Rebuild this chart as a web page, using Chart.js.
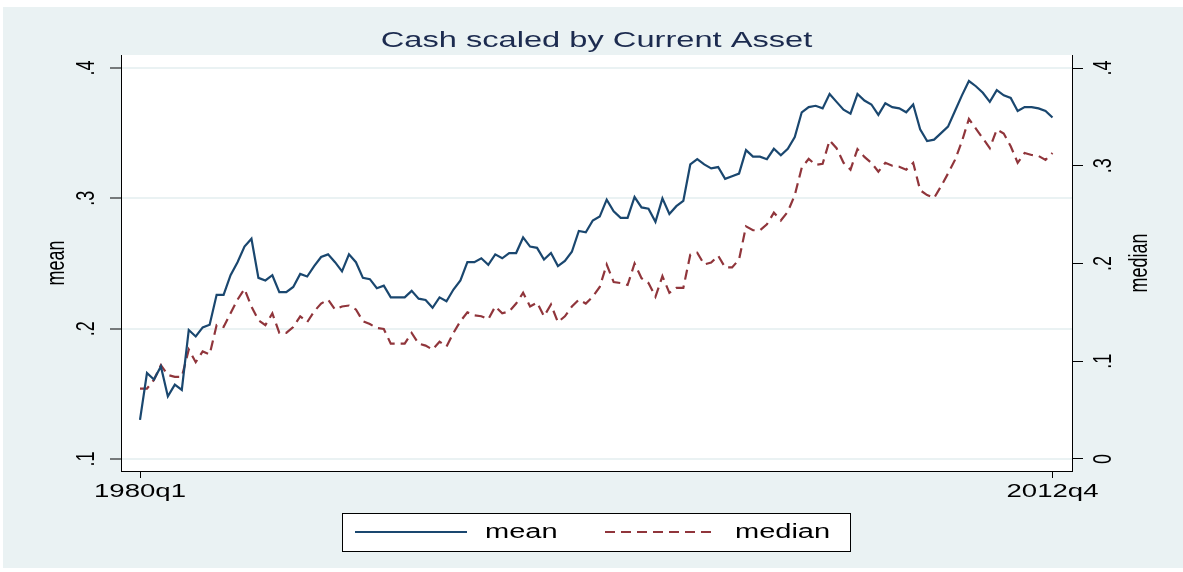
<!DOCTYPE html>
<html>
<head>
<meta charset="utf-8">
<script src="https://cdn.jsdelivr.net/npm/chart.js@4.4.1/dist/chart.umd.min.js"></script>
<style>
  body { margin: 0; background: #fff; }
  #show_chart { position: absolute; left: 3px; top: 7px; }
</style>
</head>
<body>
<canvas id="show_chart" width="1180" height="561"></canvas>
<script>
// quarters 1980q1 .. 2012q4
const quarters = []
for (let y = 1980; y <= 2012; y++) {
    for (let q = 1; q <= 4; q++) quarters.push(y + 'q' + q)
}

const meanValues = [
    0.130, 0.166, 0.161, 0.171, 0.148, 0.157, 0.153, 0.199, 0.194, 0.201,
    0.203, 0.226, 0.226, 0.241, 0.251, 0.263, 0.269, 0.239, 0.237, 0.241,
    0.228, 0.228, 0.232, 0.242, 0.240, 0.248, 0.255, 0.257, 0.251, 0.244,
    0.257, 0.251, 0.239, 0.238, 0.231, 0.233, 0.224, 0.224, 0.224, 0.229,
    0.223, 0.222, 0.216, 0.224, 0.221, 0.230, 0.237, 0.251, 0.251, 0.254,
    0.249, 0.257, 0.254, 0.258, 0.258, 0.270, 0.263, 0.262, 0.253, 0.258,
    0.248, 0.252, 0.259, 0.275, 0.274, 0.283, 0.286, 0.299, 0.290, 0.285,
    0.285, 0.301, 0.293, 0.292, 0.282, 0.300, 0.288, 0.294, 0.298, 0.326,
    0.330, 0.326, 0.323, 0.324, 0.315, 0.317, 0.319, 0.337, 0.332, 0.332,
    0.330, 0.338, 0.333, 0.338, 0.347, 0.366, 0.370, 0.371, 0.369, 0.380,
    0.374, 0.368, 0.365, 0.380, 0.375, 0.372, 0.364, 0.373, 0.370, 0.369,
    0.366, 0.372, 0.353, 0.344, 0.345, 0.350, 0.355, 0.367, 0.379, 0.390,
    0.386, 0.381, 0.374, 0.383, 0.379, 0.377, 0.367, 0.370, 0.370, 0.369,
    0.367, 0.362
]

const medianValues = [
    0.072, 0.072, 0.081, 0.096, 0.086, 0.084, 0.084, 0.112, 0.099, 0.110,
    0.107, 0.137, 0.135, 0.149, 0.163, 0.174, 0.156, 0.142, 0.137, 0.149,
    0.129, 0.129, 0.135, 0.146, 0.140, 0.151, 0.159, 0.163, 0.153, 0.156,
    0.157, 0.153, 0.141, 0.138, 0.134, 0.133, 0.118, 0.118, 0.118, 0.129,
    0.118, 0.116, 0.112, 0.120, 0.115, 0.129, 0.141, 0.150, 0.147, 0.146,
    0.143, 0.156, 0.149, 0.151, 0.159, 0.170, 0.156, 0.160, 0.146, 0.158,
    0.140, 0.146, 0.156, 0.163, 0.159, 0.166, 0.176, 0.199, 0.181, 0.180,
    0.178, 0.200, 0.185, 0.180, 0.166, 0.187, 0.170, 0.175, 0.175, 0.209,
    0.211, 0.199, 0.201, 0.208, 0.196, 0.196, 0.204, 0.238, 0.234, 0.234,
    0.240, 0.252, 0.244, 0.253, 0.270, 0.298, 0.307, 0.301, 0.302, 0.326,
    0.318, 0.303, 0.296, 0.317, 0.309, 0.303, 0.294, 0.303, 0.300, 0.299,
    0.296, 0.303, 0.275, 0.270, 0.267, 0.279, 0.292, 0.306, 0.325, 0.348,
    0.338, 0.328, 0.318, 0.337, 0.333, 0.320, 0.303, 0.313, 0.311, 0.310,
    0.306, 0.313
]

const xTickLabels = ['1980q1', '2012q4']
const meanTicks = [0.1, 0.2, 0.3, 0.4]
const meanTickLabels = ['.1', '.2', '.3', '.4']
const medianTicks = [0, 0.1, 0.2, 0.3, 0.4]
const medianTickLabels = ['0', '.1', '.2', '.3', '.4']

const NAVY = 'rgb(26,71,111)'
const MAROON = 'rgb(144,53,59)'
const FONT = "'Liberation Sans', Arial, sans-serif"

// the stata export is stretched sideways, widen text the same way
const STRETCH = 1.45
const ctx = document.querySelector('#show_chart').getContext('2d')
const rawFill = ctx.fillText.bind(ctx)
const rawMeasure = ctx.measureText.bind(ctx)
ctx.fillText = (text, x, y, maxWidth) => {
    const m = ctx.getTransform()
    const p = m.transformPoint(new DOMPoint(x, y))
    ctx.save()
    ctx.setTransform(new DOMMatrix().translate(p.x, p.y).scale(STRETCH, 1).translate(-p.x, -p.y).multiply(m))
    if (maxWidth === undefined) rawFill(text, x, y)
    else rawFill(text, x, y, maxWidth / STRETCH)
    ctx.restore()
}
ctx.measureText = text => ({ width: rawMeasure(text).width * STRETCH })

const toPoints = arr => arr.map((v, i) => ({ x: i, y: v }))

// ===== PLUGINS =====
const background = {
    id: 'background',
    beforeDraw(chart) {
        const { ctx, chartArea: a } = chart
        ctx.save()
        ctx.fillStyle = 'rgb(234,242,243)'
        ctx.fillRect(0, 0, chart.width, chart.height)
        ctx.fillStyle = '#fff'
        ctx.fillRect(a.left, a.top, a.right - a.left, a.bottom - a.top)
        ctx.restore()
    }
}

// right axis title reads bottom to top like the left one
const rightTitle = {
    id: 'rightTitle',
    afterDraw(chart) {
        const { ctx, chartArea: a } = chart
        ctx.save()
        ctx.translate(1137, (a.top + a.bottom) / 2)
        ctx.rotate(-Math.PI / 2)
        ctx.font = '18px ' + FONT
        ctx.fillStyle = '#000'
        ctx.textAlign = 'center'
        ctx.textBaseline = 'middle'
        ctx.fillText('median', 0, 0)
        ctx.restore()
    }
}

// boxed legend under the plot
const boxLegend = {
    id: 'boxLegend',
    afterDraw(chart) {
        const { ctx } = chart
        const items = [
            { ds: chart.data.datasets[0], x0: 352, x1: 464, tx: 482 },
            { ds: chart.data.datasets[1], x0: 602, x1: 714, tx: 732 }
        ]
        const cy = 525
        ctx.save()
        ctx.fillStyle = '#fff'
        ctx.fillRect(339.5, 506.5, 508, 38)
        ctx.strokeStyle = '#000'
        ctx.lineWidth = 1
        ctx.strokeRect(339.5, 506.5, 508, 38)
        items.forEach(it => {
            ctx.beginPath()
            ctx.strokeStyle = it.ds.borderColor
            ctx.lineWidth = it.ds.borderWidth
            ctx.setLineDash(it.ds.borderDash || [])
            ctx.moveTo(it.x0, cy)
            ctx.lineTo(it.x1, cy)
            ctx.stroke()
            ctx.setLineDash([])
            ctx.font = '20px ' + FONT
            ctx.fillStyle = '#000'
            ctx.textAlign = 'left'
            ctx.textBaseline = 'middle'
            ctx.fillText(it.ds.label, it.tx, cy)
        })
        ctx.restore()
    }
}

// create a new chart instance
new Chart(ctx, {
    type: 'line',
    data: {
        datasets: [
            {
                label: 'mean',
                data: toPoints(meanValues),
                yAxisID: 'y',
                borderColor: NAVY,
                borderWidth: 2.2,
                pointRadius: 0,
                tension: 0
            },
            {
                label: 'median',
                data: toPoints(medianValues),
                yAxisID: 'y1',
                borderColor: MAROON,
                borderWidth: 2.2,
                borderDash: [10, 6],
                pointRadius: 0,
                tension: 0
            }
        ]
    },
    options: {
        responsive: false,
        animation: false,
        layout: { padding: 0 },
        plugins: {
            legend: { display: false },
            tooltip: { enabled: false },
            title: {
                display: true,
                text: 'Cash scaled by Current Asset',
                fullSize: false,
                color: '#1c2b4f',
                font: { family: FONT, size: 22.5, weight: 'normal' },
                padding: { top: 20.5, bottom: 0.5 }
            }
        },
        scales: {
            x: {
                type: 'linear',
                min: -2.728,
                max: 133.8,
                afterFit: s => { s.height = 97 },
                afterBuildTicks: s => { s.ticks = [0, quarters.length - 1].map(v => ({ value: v })) },
                ticks: {
                    autoSkip: false,
                    maxRotation: 0,
                    padding: 2,
                    color: '#000',
                    font: { family: FONT, size: 19 },
                    callback: v => xTickLabels[v === 0 ? 0 : 1]
                },
                grid: { drawOnChartArea: false, tickLength: 7, tickColor: '#000', tickWidth: 1 },
                border: { display: true, color: '#000', width: 1 }
            },
            y: {
                type: 'linear',
                position: 'left',
                min: 0.09079,
                max: 0.40997,
                afterFit: s => { s.width = 118 },
                afterBuildTicks: s => { s.ticks = meanTicks.map(v => ({ value: v })) },
                ticks: {
                    minRotation: 90,
                    maxRotation: 90,
                    crossAlign: 'center',
                    padding: 12,
                    color: '#000',
                    font: { family: FONT, size: 18 },
                    callback: (v, i) => meanTickLabels[i]
                },
                title: {
                    display: true,
                    text: 'mean',
                    color: '#000',
                    font: { family: FONT, size: 18 },
                    padding: { top: 43, bottom: 0 }
                },
                grid: { color: 'rgb(234,242,243)', lineWidth: 2, tickLength: 11, tickColor: '#000', tickWidth: 1 },
                border: { display: true, color: '#000', width: 1 }
            },
            y1: {
                type: 'linear',
                position: 'right',
                min: -0.01228,
                max: 0.4133,
                afterFit: s => { s.width = 111 },
                afterBuildTicks: s => { s.ticks = medianTicks.map(v => ({ value: v })) },
                ticks: {
                    minRotation: 90,
                    maxRotation: 90,
                    crossAlign: 'center',
                    padding: 10,
                    color: '#000',
                    font: { family: FONT, size: 18 },
                    callback: (v, i) => medianTickLabels[i]
                },
                grid: { drawOnChartArea: false, tickLength: 11, tickColor: '#000', tickWidth: 1 },
                border: { display: true, color: '#000', width: 1 }
            }
        }
    },
    plugins: [background, rightTitle, boxLegend]
})
</script>
</body>
</html>
